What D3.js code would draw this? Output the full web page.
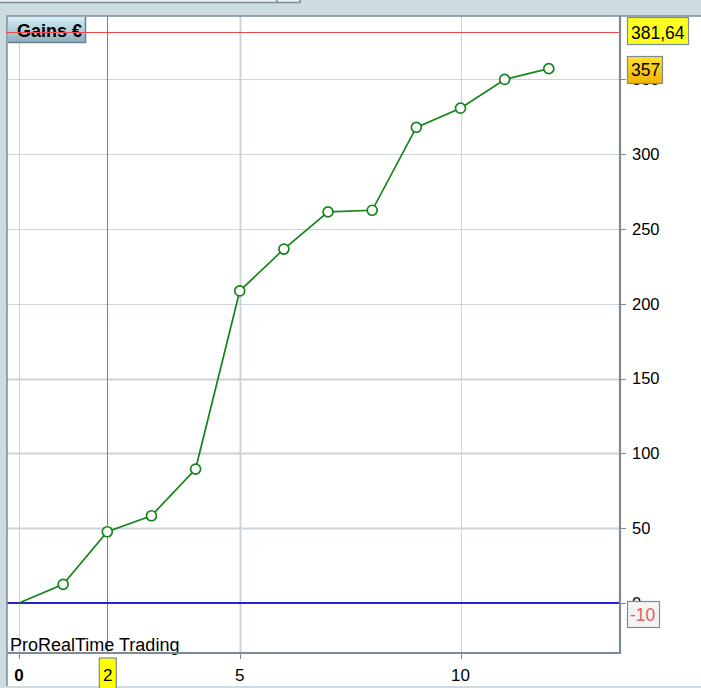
<!DOCTYPE html>
<html><head><meta charset="utf-8">
<script src="https://cdn.jsdelivr.net/npm/d3@7"></script>
<style>html,body{margin:0;padding:0;background:#cddbe3;overflow:hidden}svg{display:block}</style>
</head><body>
<script>
const trades = [0,1,2,3,4,5,6,7,8,9,10,11,12];
const gains = [0,12.5,47.6,58.3,89.5,208.5,236.5,261.3,262.4,317.8,330.6,349.8,357];
const yTicks = [0,50,100,150,200,250,300,350];
const xTicks = [0,5,10];
const maxGain = 381.64;
const lastGain = 357;
const minLabel = -10;
const cursorTrade = 2;
const title = "Gains €";
const brand = "ProRealTime Trading";

const W=701,H=688;
const svg=d3.select("body").append("svg").attr("width",W).attr("height",H);
const font="'Liberation Sans',Arial,sans-serif";
const border="#7b8c97";
const plot={l:7,t:16,r:620,b:653};

const x=d3.scaleLinear().domain([0,10]).range([19,460.5]);
const y=d3.scaleLinear().domain([0,300]).range([603,154]);

const defs=svg.append("defs");
const g1=defs.append("linearGradient").attr("id","titleG").attr("x1",0).attr("y1",0).attr("x2",0).attr("y2",1);
g1.append("stop").attr("offset","0%").attr("stop-color","#d4eef8");
g1.append("stop").attr("offset","100%").attr("stop-color","#8fb0bf");
const g2=defs.append("linearGradient").attr("id","lastG").attr("x1",0).attr("y1",0).attr("x2",0).attr("y2",1);
g2.append("stop").attr("offset","0%").attr("stop-color","#ffe030");
g2.append("stop").attr("offset","100%").attr("stop-color","#f0b400");
defs.append("clipPath").attr("id","clip").append("rect")
  .attr("x",plot.l).attr("y",plot.t).attr("width",plot.r-plot.l).attr("height",plot.b-plot.t);

svg.append("rect").attr("x",-2).attr("y",-10).attr("width",302).attr("height",12.5)
  .attr("fill","#e9eef1").attr("stroke",border).attr("stroke-width",1.5);
svg.append("line").attr("x1",277).attr("x2",277).attr("y1",0).attr("y2",2.5).attr("stroke",border).attr("stroke-width",1.5);

svg.append("rect").attr("x",plot.l).attr("y",plot.t).attr("width",W-plot.l).attr("height",686-plot.t).attr("fill","#fff");

const pg=svg.append("g").attr("clip-path","url(#clip)");
pg.selectAll(".hg").data(yTicks.filter(d=>d>0)).join("line")
  .attr("x1",plot.l).attr("x2",plot.r).attr("y1",d=>Math.round(y(d))+0.5).attr("y2",d=>Math.round(y(d))+0.5)
  .attr("stroke","#cdd4d9").attr("stroke-width",d=>d<=150?2:1);
pg.selectAll(".vg").data(xTicks).join("line")
  .attr("x1",d=>Math.round(x(d))+0.5).attr("x2",d=>Math.round(x(d))+0.5).attr("y1",plot.t).attr("y2",plot.b)
  .attr("stroke","#cdd4d9").attr("stroke-width",d=>d===5?2:1);

pg.append("line").attr("x1",Math.round(x(cursorTrade))+0.5).attr("x2",Math.round(x(cursorTrade))+0.5)
  .attr("y1",plot.t).attr("y2",plot.b).attr("stroke","#f05050").attr("stroke-width",1);
svg.append("line").attr("x1",plot.l).attr("x2",plot.r).attr("y1",Math.round(y(maxGain))+0.5).attr("y2",Math.round(y(maxGain))+0.5)
  .attr("stroke","#f04848").attr("stroke-width",1);

pg.append("line").attr("x1",plot.l).attr("x2",plot.r).attr("y1",y(0)).attr("y2",y(0))
  .attr("stroke","#2424d0").attr("stroke-width",2.2);

const pts=trades.map((t,i)=>[t,gains[i]]);
pg.append("path").datum(pts).attr("fill","none").attr("stroke","#13851a").attr("stroke-width",1.7)
  .attr("d",d3.line().x(d=>x(d[0])).y(d=>y(d[1])));
pg.selectAll(".pt").data(pts.slice(1)).join("circle")
  .attr("cx",d=>x(d[0])).attr("cy",d=>y(d[1])).attr("r",5)
  .attr("fill","#fff").attr("stroke","#13851a").attr("stroke-width",1.7);

svg.append("text").attr("x",10).attr("y",651).attr("font-family",font).attr("font-size",18)
  .attr("fill","#000").text(brand);

svg.append("path").attr("d",`M${plot.l},${686}V${plot.t}H${W}`).attr("fill","none").attr("stroke",border).attr("stroke-width",1.5);
svg.append("path").attr("d",`M${plot.l},${plot.b}H${plot.r}V${plot.t}`).attr("fill","none").attr("stroke",border).attr("stroke-width",2.2);

const ya=svg.append("g");
ya.selectAll(".yt").data(yTicks).join("line")
  .attr("x1",plot.r).attr("x2",plot.r+6).attr("y1",d=>Math.round(y(d))+0.5).attr("y2",d=>Math.round(y(d))+0.5)
  .attr("stroke",border).attr("stroke-width",1);
ya.selectAll(".yl").data(yTicks).join("text")
  .attr("x",632).attr("y",d=>y(d)).attr("dy","0.36em").attr("font-family",font).attr("font-size",16.5)
  .attr("fill","#000").text(d=>d);

svg.selectAll(".xt").data(xTicks).join("line")
  .attr("x1",d=>Math.round(x(d))+0.5).attr("x2",d=>Math.round(x(d))+0.5).attr("y1",plot.b).attr("y2",plot.b+6)
  .attr("stroke",border).attr("stroke-width",1);
svg.selectAll(".xl").data(xTicks).join("text")
  .attr("x",d=>x(d)).attr("y",675).attr("dy","0.36em").attr("text-anchor","middle")
  .attr("font-family",font).attr("font-size",17).attr("font-weight",d=>d===0?"bold":"normal")
  .attr("fill","#000").text(d=>d);

const cx=x(cursorTrade);
svg.append("rect").attr("x",cx-8).attr("y",658).attr("width",17).attr("height",32)
  .attr("fill","#ffff00").attr("stroke",border).attr("stroke-width",1.2);
svg.append("text").attr("x",cx+0.5).attr("y",675).attr("dy","0.36em").attr("text-anchor","middle")
  .attr("font-family",font).attr("font-size",17).attr("fill","#000").text(cursorTrade);

svg.append("rect").attr("x",627.5).attr("y",17.5).attr("width",61).attr("height",27)
  .attr("fill","#ffff20").attr("stroke",border).attr("stroke-width",1.2);
svg.append("text").attr("x",631).attr("y",y(maxGain)+1).attr("dy","0.36em")
  .attr("font-family",font).attr("font-size",17.5).attr("fill","#000").text(String(maxGain).replace(".",","));

svg.append("rect").attr("x",627.5).attr("y",56.5).attr("width",35).attr("height",27)
  .attr("fill","url(#lastG)").attr("stroke",border).attr("stroke-width",1.2);
svg.append("text").attr("x",631).attr("y",y(lastGain)+1).attr("dy","0.36em")
  .attr("font-family",font).attr("font-size",17.5).attr("fill","#000").text(lastGain);

svg.append("rect").attr("x",627.5).attr("y",601.5).attr("width",32).attr("height",26)
  .attr("fill","#f4f4f4").attr("stroke",border).attr("stroke-width",1.2);
svg.append("text").attr("x",630).attr("y",615).attr("dy","0.36em")
  .attr("font-family",font).attr("font-size",17.5).attr("fill","#e06060").text(minLabel);

svg.append("rect").attr("x",8).attr("y",17).attr("width",77).attr("height",25)
  .attr("fill","url(#titleG)");
svg.append("path").attr("d","M8,42.5H85.5V17").attr("fill","none").attr("stroke","#6e808c").attr("stroke-width",1.5);
svg.append("text").attr("x",17).attr("y",37).attr("font-family",font).attr("font-size",18).attr("font-weight","bold")
  .attr("fill","#000").text(title);
svg.append("line").attr("x1",6).attr("x2",90).attr("y1",Math.round(y(maxGain))+0.5).attr("y2",Math.round(y(maxGain))+0.5)
  .attr("stroke","#f04848").attr("stroke-width",1);
</script>
</body></html>
